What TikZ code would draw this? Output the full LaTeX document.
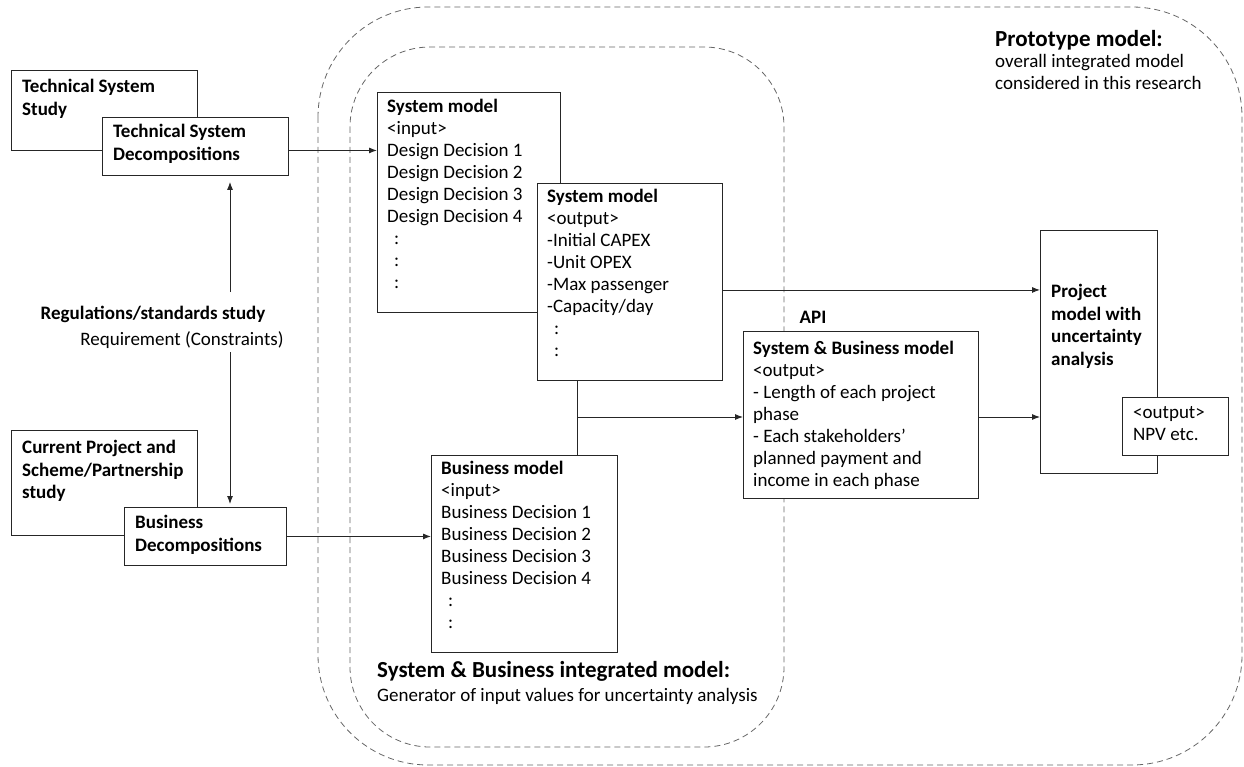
\documentclass[tikz,border=0pt]{standalone}
\usepackage{fontspec}
\setmainfont{Carlito}
\usetikzlibrary{positioning,arrows.meta}

\begin{document}
\begin{tikzpicture}
                    [x=1pt, y=-1pt,
                    box/.style={rectangle, draw=black!85, fill=white,
                        line width=0.9pt, anchor=north west, inner sep=0pt},
                    txt/.style={anchor=north west, align=left, inner sep=0pt,
                        font=\fontsize{19}{22}\selectfont},
                    bf/.style={font=\bfseries\fontsize{19}{22.5}\selectfont},
                    hd/.style={font=\bfseries\fontsize{23}{26}\selectfont},
                    region/.style={draw=black!60, line width=0.8pt,
                        dash pattern=on 6pt off 4pt},
                    link/.style={draw=black!85, line width=0.9pt,
                        -{Latex[length=8pt,width=6pt]}}]

                    \useasboundingbox (0,0) rectangle (1244,767);

                    % dashed regions
                    \draw[region, rounded corners=110] (318,7) rectangle (1242,765);
                    \draw[region, rounded corners=80] (350,47) rectangle (784,747);

                    % left side
                    \node[box, minimum width=186, minimum height=80] (tss) at (11,70) {};
                    \node[txt, bf] (tss-t) at (22,79) {Technical System\\Study};
                    \node[box, minimum width=186, minimum height=58] (tsd) at (102,117) {};
                    \node[txt, bf] (tsd-t) at (113,124) {Technical System\\Decompositions};

                    \node[box, minimum width=186, minimum height=105] (cps) at (11,430) {};
                    \node[txt, bf] (cps-t) at (22,440) {Current Project and\\Scheme/Partnership\\study};
                    \node[box, minimum width=162, minimum height=58] (bd) at (124,507) {};
                    \node[txt, bf] (bd-t) at (135,515) {Business\\Decompositions};

                    \node[font=\bfseries\fontsize{19}{22}\selectfont] (reg) at (153,314) {Regulations/standards study};
                    \node[font=\fontsize{19}{22}\selectfont] (req) at (182,340) {Requirement (Constraints)};
                    \coordinate (up) at (230,292);
                    \coordinate (dn) at (230,352);

                    % system and business models
                    \node[box, minimum width=183, minimum height=220] (smi) at (377,92) {};
                    \node[txt] (smi-t) at (387,99) {\textbf{System model}\\<input>\\Design Decision 1\\Design Decision 2\\Design Decision 3\\Design Decision 4\\\hspace*{7pt}:\\\hspace*{7pt}:\\\hspace*{7pt}:};
                    \node[box, minimum width=185, minimum height=197] (smo) at (537,183) {};
                    \node[txt] (smo-t) at (547,189) {\textbf{System model}\\<output>\\-Initial CAPEX\\-Unit OPEX\\-Max passenger\\-Capacity/day\\\hspace*{7pt}:\\\hspace*{7pt}:};

                    \node[box, minimum width=186, minimum height=197] (bm) at (431,455) {};
                    \node[txt] (bm-t) at (441,461) {\textbf{Business model}\\<input>\\Business Decision 1\\Business Decision 2\\Business Decision 3\\Business Decision 4\\\hspace*{7pt}:\\\hspace*{7pt}:};

                    \node[font=\bfseries\fontsize{19}{22}\selectfont] (api) at (813,317) {API};
                    \node[box, minimum width=235, minimum height=167] (sbm) at (743,331) {};
                    \node[txt] (sbm-t) at (753,341) {\textbf{System \& Business model}\\<output>\\- Length of each project\\phase\\- Each stakeholders'\\planned payment and\\income in each phase};

                    \node[box, minimum width=117, minimum height=243] (pm) at (1040,230) {};
                    \node[txt, bf] (pm-t) at (1051,284) {Project\\model with\\uncertainty\\analysis};
                    \node[box, minimum width=106, minimum height=58] (npv) at (1122,397) {};
                    \node[txt] (npv-t) at (1133,406) {<output>\\NPV etc.};

                    % region captions
                    \node[txt, hd] (proto-h) at (995,30) {Prototype model:};
                    \node[txt] (proto-t) at (995,54) {overall integrated model\\considered in this research};
                    \node[txt, hd] (integ-h) at (377,661) {System \& Business integrated model:};
                    \node[txt] (integ-t) at (377,688) {Generator of input values for uncertainty analysis};

                    % connectors
                    \coordinate (j) at (577,417);
                    \draw[link] ([yshift=-4pt]tsd.east) -- ([yshift=-4pt]tsd.east -| smi.west);
                    \draw[link, shorten >=6pt] (up) -- (up |- tsd.south);
                    \draw[link, shorten >=3pt] (dn) -- (dn |- bd.north);
                    \draw[link] (bd.east) -- (bd.east -| bm.west);
                    \draw[link] ([yshift=-8pt]smo.east) -- ([yshift=-8pt]smo.east -| pm.west);
                    \draw[draw=black!85, line width=0.9pt] (smo.south -| j) -- (bm.north -| j);
                    \draw[link] (j) -- (j -| sbm.west);
                    \draw[link] (j -| sbm.east) -- (j -| pm.west);
                \end{tikzpicture}
\end{document}
